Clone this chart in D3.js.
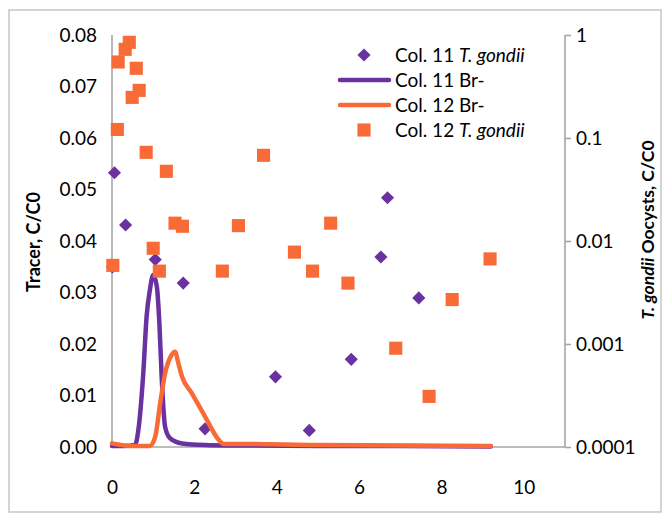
<!DOCTYPE html>
<html>
<head>
<meta charset="utf-8">
<script src="https://cdn.jsdelivr.net/npm/d3@7"></script>
<style>
  html, body { margin: 0; padding: 0; background: #fff; }
  svg text { font-family: Lato, "Open Sans", sans-serif; fill: #000; }
</style>
</head>
<body>
<svg id="chart" width="669" height="519"></svg>
<script>
// ---- Data ----
const col11TgX = [0.01, 0.06, 0.33, 1.05, 1.73, 2.26, 3.97, 4.79, 5.81, 6.53, 6.69, 7.45];
const col11TgY = [0.0056, 0.046, 0.0143, 0.0066, 0.0039, 0.00015, 0.00048, 0.000145, 0.00071, 0.0070, 0.0263, 0.0028];

const col12TgX = [0.42, 0.32, 0.15, 0.59, 0.66, 0.49, 0.13, 0.83, 1.32, 3.68, 1.53, 1.71, 3.07, 1.00, 0.02, 1.15, 2.68, 4.43, 5.31, 4.87, 5.73, 9.18, 8.26, 6.89, 7.70];
const col12TgY = [0.849, 0.726, 0.547, 0.475, 0.290, 0.248, 0.121, 0.0726, 0.0475, 0.0679, 0.0149, 0.0139, 0.0141, 0.0085, 0.0058, 0.0051, 0.0051, 0.0078, 0.0149, 0.0051, 0.0039, 0.0067, 0.0027, 0.00091, 0.00031];

const col11BrX = [0, 0.30, 0.56, 0.64, 0.76, 0.84, 0.92, 1.00, 1.09, 1.15, 1.21, 1.29, 1.41, 1.70, 2.26, 3.0, 5.0, 7.0, 9.2];
const col11BrY = [0.0002, 0.0002, 0.0004, 0.0033, 0.0144, 0.0253, 0.0305, 0.0334, 0.0311, 0.0241, 0.0130, 0.0039, 0.0017, 0.0007, 0.0004, 0.0003, 0.0002, 0.0002, 0.0001];

const col12BrX = [0, 0.3, 0.6, 0.92, 1.05, 1.17, 1.29, 1.45, 1.53, 1.61, 1.70, 1.94, 2.26, 2.59, 2.71, 2.99, 5.0, 7.0, 9.2];
const col12BrY = [0.0007, 0.0003, 0.0002, 0.0002, 0.0020, 0.0085, 0.0143, 0.0179, 0.0185, 0.0163, 0.0137, 0.0104, 0.0059, 0.0014, 0.0006, 0.0006, 0.0004, 0.0003, 0.0002];

const xTicks = [0, 2, 4, 6, 8, 10];
const yLeftTicks = [0, 0.01, 0.02, 0.03, 0.04, 0.05, 0.06, 0.07, 0.08];
const yRightTicks = [0.0001, 0.001, 0.01, 0.1, 1];
const yRightLabels = ["0.0001", "0.001", "0.01", "0.1", "1"];

const legendLabels = ["Col. 11 ", "Col. 11 Br-", "Col. 12 Br-", "Col. 12 "];

// ---- Setup ----
const purple = "#6A32A0";
const orange = "#F86B36";
const axisColor = "#A6A6A6";

const svg = d3.select("#chart");

// frame
svg.append("rect").attr("x", 9).attr("y", 10).attr("width", 652).attr("height", 502)
  .attr("fill", "#fff").attr("stroke", "#BDBDBD").attr("stroke-width", 1.3);

const x = d3.scaleLinear().domain([0, 11]).range([112, 565]);
const yL = d3.scaleLinear().domain([0, 0.08]).range([447, 35]);
const yR = d3.scaleLog().domain([0.0001, 1]).range([447, 35]);

// axes
const gx = svg.append("g").attr("transform", "translate(0,447)")
  .call(d3.axisBottom(x).tickValues(xTicks).tickSize(0).tickPadding(30).tickFormat(d3.format("d")));
const gl = svg.append("g").attr("transform", "translate(112,0)")
  .call(d3.axisLeft(yL).tickValues(yLeftTicks).tickSize(0).tickPadding(15).tickFormat(d3.format(".2f")));
const gr = svg.append("g").attr("transform", "translate(565,0)")
  .call(d3.axisRight(yR).tickValues(yRightTicks).tickSize(6).tickPadding(5).tickFormat((d, i) => yRightLabels[i]));

[gx, gl, gr].forEach(g => {
  g.select(".domain").attr("stroke", axisColor).attr("stroke-width", 1.6);
  g.selectAll(".tick line").attr("stroke", axisColor).attr("stroke-width", 1.6);
  g.selectAll(".tick text").attr("font-size", 19).attr("font-family", "Lato, sans-serif").attr("fill", "#000");
});
gx.select(".domain").attr("d", "M112,0H565");
gl.select(".domain").attr("d", "M0,447V35");
gr.select(".domain").attr("d", "M0,447V35");
gx.selectAll(".tick text").attr("dy", "0.35em").attr("y", 40);

// axis titles
svg.append("text").attr("transform", "translate(40,242) rotate(-90)")
  .attr("text-anchor", "middle").attr("font-size", 18).attr("font-weight", "bold")
  .attr("font-family", "'Open Sans', sans-serif")
  .text("Tracer, C/C0");
const rt = svg.append("text").attr("transform", "translate(654,230) rotate(-90)")
  .attr("text-anchor", "middle").attr("font-size", 17.5).attr("font-weight", "bold")
  .attr("font-family", "'Open Sans', sans-serif");
rt.append("tspan").attr("font-style", "italic").text("T. gondii");
rt.append("tspan").text(" Oocysts, C/C0");

// markers
const diamond = d3.symbol().type(d3.symbolDiamond2).size(110);
const square = d3.symbol().type(d3.symbolSquare).size(172);

const d11 = col11TgX.map((v, i) => [v, col11TgY[i]]);
const d12 = col12TgX.map((v, i) => [v, col12TgY[i]]);
const l11 = col11BrX.map((v, i) => [v, col11BrY[i]]);
const l12 = col12BrX.map((v, i) => [v, col12BrY[i]]);

svg.append("g").selectAll("path").data(d11).join("path")
  .attr("d", diamond).attr("fill", purple)
  .attr("transform", d => `translate(${x(d[0])},${yR(d[1])})`);

const line = d3.line().x(d => x(d[0])).y(d => yL(d[1])).curve(d3.curveMonotoneX);
svg.append("path").datum(l11).attr("d", line).attr("fill", "none")
  .attr("stroke", purple).attr("stroke-width", 4.5).attr("stroke-linejoin", "round").attr("stroke-linecap", "round");
svg.append("path").datum(l12).attr("d", line).attr("fill", "none")
  .attr("stroke", orange).attr("stroke-width", 4.5).attr("stroke-linejoin", "round").attr("stroke-linecap", "round");

svg.append("g").selectAll("path").data(d12).join("path")
  .attr("d", square).attr("fill", orange)
  .attr("transform", d => `translate(${x(d[0])},${yR(d[1])})`);

// legend
const lg = svg.append("g");
const rowY = [55, 80, 105, 130];
lg.append("path").attr("d", diamond).attr("fill", purple).attr("transform", `translate(364,${rowY[0]})`);
lg.append("line").attr("x1", 340).attr("x2", 389).attr("y1", rowY[1]).attr("y2", rowY[1])
  .attr("stroke", purple).attr("stroke-width", 4.5).attr("stroke-linecap", "round");
lg.append("line").attr("x1", 340).attr("x2", 389).attr("y1", rowY[2]).attr("y2", rowY[2])
  .attr("stroke", orange).attr("stroke-width", 4.5).attr("stroke-linecap", "round");
lg.append("path").attr("d", square).attr("fill", orange).attr("transform", `translate(364,${rowY[3]})`);

legendLabels.forEach((lab, i) => {
  const t = lg.append("text").attr("x", 395).attr("y", rowY[i]).attr("dy", "0.35em").attr("font-size", 19);
  t.append("tspan").text(lab);
  if (i === 0 || i === 3) t.append("tspan").attr("font-style", "italic").text("T. gondii");
});
</script>
</body>
</html>
